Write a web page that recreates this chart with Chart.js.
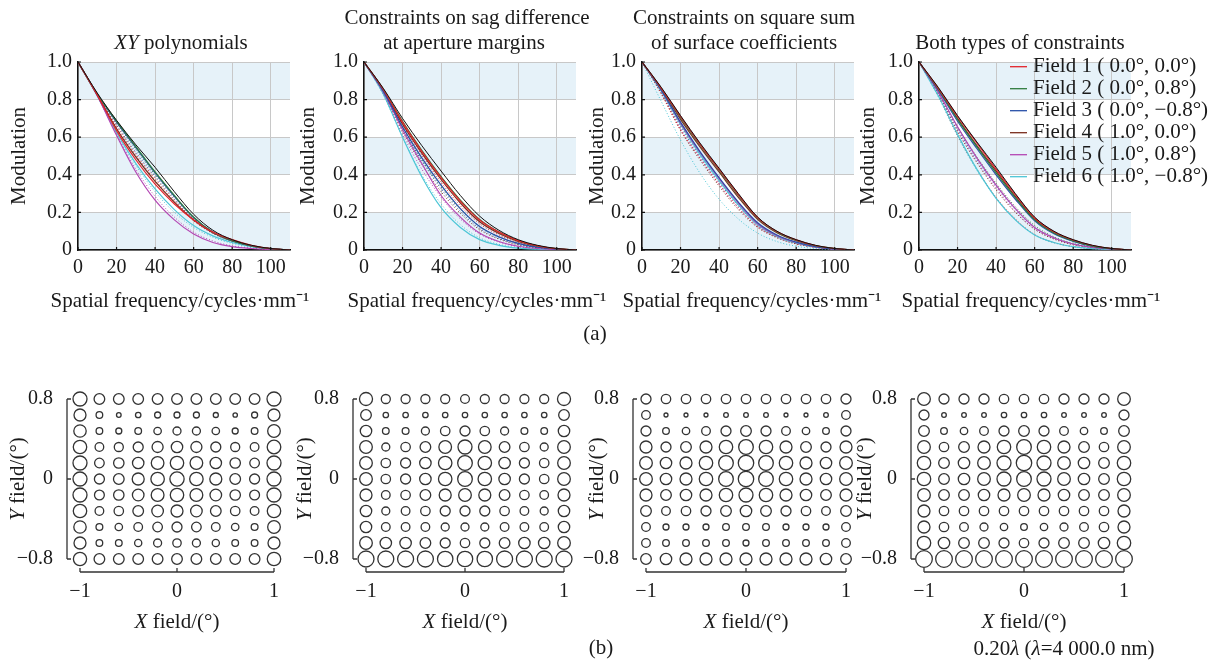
<!DOCTYPE html>
<html>
<head>
<meta charset="utf-8">
<script src="https://cdn.jsdelivr.net/npm/chart.js@4.4.1/dist/chart.umd.min.js"></script>
<style>
  body { margin: 0; background: #fff; width: 1220px; height: 663px; overflow: hidden; position: relative;
         font-family: 'Liberation Serif', 'Times New Roman', serif; color: #1a1a1a; }
  canvas { position: absolute; }
  .note { position: absolute; font-size: 21px; white-space: nowrap; transform: translate(-50%, -50%); }
</style>
</head>
<body>
<canvas id="mtf1" width="320" height="320" style="left:0px;top:0px"></canvas>
<canvas id="mtf2" width="330" height="320" style="left:290px;top:0px"></canvas>
<canvas id="mtf3" width="315" height="320" style="left:580px;top:0px"></canvas>
<canvas id="mtf4" width="365" height="320" style="left:855px;top:0px"></canvas>
<canvas id="grid1" width="300" height="303" style="left:0px;top:360px"></canvas>
<canvas id="grid2" width="300" height="303" style="left:290px;top:360px"></canvas>
<canvas id="grid3" width="300" height="303" style="left:580px;top:360px"></canvas>
<canvas id="grid4" width="365" height="303" style="left:855px;top:360px"></canvas>
<div class="note" style="left:595px;top:333px">(a)</div>
<div class="note" style="left:601px;top:647px">(b)</div>
<div class="note" style="left:1064px;top:648px">0.20<i>λ</i> (<i>λ</i>=4 000.0 nm)</div>
<script>
// spatial frequency samples, cycles/mm
const freq = [0, 10, 20, 30, 40, 50, 60, 70, 80, 90, 100, 110];
const fieldLabels = [
  "Field 1 ( 0.0°, 0.0°)",
  "Field 2 ( 0.0°, 0.8°)",
  "Field 3 ( 0.0°, \u22120.8°)",
  "Field 4 ( 1.0°, 0.0°)",
  "Field 5 ( 1.0°, 0.8°)",
  "Field 6 ( 1.0°, \u22120.8°)"
];
const fieldColors = ["#e3232b", "#2f7b3e", "#2850a8", "#7a2c1c", "#b447b4", "#4cc6d6"];

// (a) XY polynomials
const polyDiff = [1, 0.835, 0.69, 0.56, 0.44, 0.31, 0.19, 0.105, 0.055, 0.025, 0.008, 0];
const polyTan = [
  [1, 0.825, 0.635, 0.48, 0.35, 0.245, 0.16, 0.095, 0.055, 0.025, 0.008, 0],
  [1, 0.83, 0.685, 0.55, 0.415, 0.29, 0.175, 0.095, 0.05, 0.022, 0.007, 0],
  [1, 0.83, 0.68, 0.545, 0.41, 0.285, 0.172, 0.095, 0.05, 0.022, 0.007, 0],
  [1, 0.825, 0.645, 0.495, 0.365, 0.255, 0.16, 0.092, 0.05, 0.022, 0.007, 0],
  [1, 0.82, 0.61, 0.415, 0.265, 0.16, 0.085, 0.04, 0.018, 0.008, 0.003, 0],
  [1, 0.82, 0.625, 0.46, 0.325, 0.215, 0.13, 0.075, 0.04, 0.018, 0.006, 0]
];
const polySag = [
  [1, 0.83, 0.66, 0.51, 0.38, 0.265, 0.165, 0.095, 0.05, 0.022, 0.007, 0],
  [1, 0.83, 0.675, 0.535, 0.40, 0.28, 0.17, 0.095, 0.05, 0.022, 0.007, 0],
  [1, 0.825, 0.665, 0.52, 0.39, 0.27, 0.165, 0.09, 0.048, 0.021, 0.007, 0],
  [1, 0.825, 0.65, 0.50, 0.37, 0.255, 0.155, 0.088, 0.046, 0.02, 0.006, 0],
  [1, 0.82, 0.615, 0.43, 0.285, 0.175, 0.095, 0.048, 0.022, 0.01, 0.003, 0],
  [1, 0.82, 0.62, 0.45, 0.31, 0.20, 0.12, 0.068, 0.035, 0.015, 0.005, 0]
];

// (a) sag difference constraint
const edgeDiff = [1, 0.86, 0.70, 0.555, 0.42, 0.29, 0.18, 0.105, 0.055, 0.025, 0.008, 0];
const edgeTan = [
  [1, 0.855, 0.68, 0.525, 0.385, 0.26, 0.16, 0.095, 0.05, 0.022, 0.007, 0],
  [1, 0.855, 0.685, 0.53, 0.39, 0.265, 0.162, 0.095, 0.05, 0.022, 0.007, 0],
  [1, 0.845, 0.655, 0.49, 0.345, 0.22, 0.125, 0.07, 0.035, 0.015, 0.005, 0],
  [1, 0.85, 0.67, 0.515, 0.375, 0.25, 0.15, 0.088, 0.046, 0.02, 0.006, 0],
  [1, 0.84, 0.64, 0.46, 0.29, 0.175, 0.09, 0.045, 0.02, 0.008, 0.003, 0],
  [1, 0.83, 0.60, 0.39, 0.225, 0.12, 0.055, 0.025, 0.01, 0.004, 0.001, 0]
];
const edgeSag = [
  [1, 0.85, 0.665, 0.505, 0.36, 0.235, 0.14, 0.08, 0.04, 0.018, 0.006, 0],
  [1, 0.845, 0.65, 0.48, 0.335, 0.215, 0.125, 0.07, 0.035, 0.015, 0.005, 0],
  [1, 0.84, 0.645, 0.475, 0.325, 0.205, 0.115, 0.062, 0.03, 0.013, 0.004, 0],
  [1, 0.835, 0.63, 0.455, 0.31, 0.195, 0.108, 0.058, 0.028, 0.012, 0.004, 0],
  [1, 0.83, 0.615, 0.43, 0.28, 0.165, 0.085, 0.042, 0.018, 0.007, 0.002, 0],
  [1, 0.825, 0.60, 0.40, 0.245, 0.135, 0.065, 0.03, 0.012, 0.005, 0.001, 0]
];

// (a) square sum constraint
const sumDiff = [1, 0.865, 0.715, 0.57, 0.435, 0.30, 0.175, 0.10, 0.055, 0.025, 0.008, 0];
const sumTan = [
  [1, 0.86, 0.71, 0.565, 0.43, 0.295, 0.172, 0.098, 0.054, 0.024, 0.008, 0],
  [1, 0.86, 0.705, 0.56, 0.425, 0.29, 0.17, 0.096, 0.052, 0.023, 0.008, 0],
  [1, 0.85, 0.68, 0.525, 0.385, 0.255, 0.145, 0.08, 0.042, 0.018, 0.006, 0],
  [1, 0.855, 0.695, 0.55, 0.415, 0.28, 0.163, 0.092, 0.05, 0.022, 0.007, 0],
  [1, 0.85, 0.675, 0.52, 0.38, 0.25, 0.14, 0.076, 0.04, 0.017, 0.005, 0],
  [1, 0.845, 0.67, 0.51, 0.37, 0.24, 0.135, 0.072, 0.037, 0.016, 0.005, 0]
];
const sumSag = [
  [1, 0.835, 0.64, 0.49, 0.35, 0.225, 0.125, 0.068, 0.034, 0.015, 0.005, 0],
  [1, 0.845, 0.665, 0.51, 0.37, 0.24, 0.135, 0.074, 0.038, 0.016, 0.005, 0],
  [1, 0.84, 0.655, 0.50, 0.36, 0.235, 0.13, 0.07, 0.036, 0.015, 0.005, 0],
  [1, 0.83, 0.635, 0.48, 0.34, 0.215, 0.12, 0.065, 0.032, 0.014, 0.004, 0],
  [1, 0.835, 0.645, 0.49, 0.35, 0.225, 0.125, 0.068, 0.034, 0.015, 0.005, 0],
  [1, 0.79, 0.585, 0.41, 0.27, 0.165, 0.09, 0.045, 0.02, 0.008, 0.002, 0]
];

// (a) both constraints
const bothDiff = [1, 0.865, 0.715, 0.575, 0.44, 0.30, 0.175, 0.10, 0.055, 0.025, 0.008, 0];
const bothTan = [
  [1, 0.86, 0.71, 0.57, 0.43, 0.295, 0.17, 0.097, 0.053, 0.024, 0.008, 0],
  [1, 0.855, 0.695, 0.55, 0.41, 0.278, 0.16, 0.09, 0.048, 0.021, 0.007, 0],
  [1, 0.85, 0.685, 0.54, 0.40, 0.27, 0.155, 0.086, 0.046, 0.02, 0.006, 0],
  [1, 0.855, 0.70, 0.555, 0.42, 0.285, 0.165, 0.093, 0.05, 0.022, 0.007, 0],
  [1, 0.84, 0.655, 0.49, 0.345, 0.22, 0.12, 0.065, 0.032, 0.014, 0.004, 0],
  [1, 0.82, 0.615, 0.43, 0.275, 0.16, 0.08, 0.04, 0.018, 0.007, 0.002, 0]
];
const bothSag = [
  [1, 0.82, 0.61, 0.43, 0.28, 0.165, 0.082, 0.04, 0.018, 0.007, 0.002, 0],
  [1, 0.84, 0.655, 0.495, 0.355, 0.23, 0.13, 0.07, 0.035, 0.015, 0.005, 0],
  [1, 0.835, 0.645, 0.48, 0.34, 0.215, 0.12, 0.065, 0.032, 0.014, 0.004, 0],
  [1, 0.83, 0.63, 0.465, 0.32, 0.20, 0.11, 0.058, 0.028, 0.012, 0.004, 0],
  [1, 0.83, 0.635, 0.47, 0.33, 0.205, 0.112, 0.06, 0.03, 0.013, 0.004, 0],
  [1, 0.815, 0.605, 0.425, 0.275, 0.16, 0.08, 0.038, 0.017, 0.007, 0.002, 0]
];

// (b) full-field wavefront error (waves), rows from Y=0.8 down to Y=-0.8
const xField = [-1, -0.8, -0.6, -0.4, -0.2, 0, 0.2, 0.4, 0.6, 0.8, 1];
const yField = [0.8, 0.64, 0.48, 0.32, 0.16, 0, -0.16, -0.32, -0.48, -0.64, -0.8];
const polyRms = [
  [0.175, 0.133, 0.133, 0.133, 0.133, 0.133, 0.133, 0.133, 0.133, 0.133, 0.175],
  [0.15, 0.083, 0.058, 0.068, 0.075, 0.075, 0.075, 0.063, 0.055, 0.075, 0.15],
  [0.155, 0.083, 0.075, 0.083, 0.093, 0.1, 0.1, 0.093, 0.075, 0.083, 0.158],
  [0.168, 0.108, 0.113, 0.125, 0.138, 0.143, 0.138, 0.125, 0.113, 0.108, 0.17],
  [0.175, 0.12, 0.13, 0.143, 0.158, 0.168, 0.158, 0.143, 0.13, 0.12, 0.175],
  [0.175, 0.125, 0.133, 0.15, 0.168, 0.178, 0.168, 0.15, 0.133, 0.125, 0.175],
  [0.175, 0.123, 0.13, 0.145, 0.16, 0.168, 0.16, 0.145, 0.13, 0.123, 0.175],
  [0.168, 0.108, 0.118, 0.133, 0.145, 0.15, 0.145, 0.133, 0.118, 0.108, 0.168],
  [0.155, 0.085, 0.093, 0.108, 0.12, 0.125, 0.12, 0.108, 0.093, 0.085, 0.158],
  [0.15, 0.083, 0.083, 0.09, 0.1, 0.105, 0.1, 0.09, 0.083, 0.083, 0.15],
  [0.165, 0.133, 0.133, 0.133, 0.133, 0.133, 0.133, 0.133, 0.133, 0.133, 0.168]
];
const edgeRms = [
  [0.163, 0.113, 0.113, 0.113, 0.113, 0.11, 0.113, 0.113, 0.113, 0.113, 0.163],
  [0.133, 0.068, 0.068, 0.068, 0.068, 0.068, 0.068, 0.068, 0.068, 0.068, 0.133],
  [0.143, 0.083, 0.085, 0.1, 0.118, 0.125, 0.118, 0.1, 0.085, 0.083, 0.143],
  [0.158, 0.1, 0.118, 0.133, 0.158, 0.175, 0.158, 0.133, 0.118, 0.1, 0.158],
  [0.158, 0.118, 0.125, 0.143, 0.168, 0.183, 0.168, 0.143, 0.125, 0.118, 0.158],
  [0.158, 0.118, 0.125, 0.143, 0.168, 0.183, 0.168, 0.143, 0.125, 0.118, 0.158],
  [0.15, 0.108, 0.118, 0.133, 0.15, 0.158, 0.15, 0.133, 0.118, 0.108, 0.15],
  [0.143, 0.1, 0.108, 0.118, 0.125, 0.125, 0.125, 0.118, 0.108, 0.1, 0.143],
  [0.143, 0.108, 0.108, 0.108, 0.1, 0.1, 0.1, 0.108, 0.108, 0.108, 0.143],
  [0.158, 0.143, 0.143, 0.133, 0.125, 0.118, 0.125, 0.133, 0.143, 0.143, 0.158],
  [0.2, 0.2, 0.2, 0.2, 0.193, 0.193, 0.193, 0.2, 0.2, 0.2, 0.2]
];
const sumRms = [
  [0.125, 0.118, 0.118, 0.118, 0.118, 0.118, 0.118, 0.118, 0.118, 0.118, 0.125],
  [0.108, 0.05, 0.05, 0.05, 0.058, 0.058, 0.058, 0.05, 0.05, 0.058, 0.108],
  [0.125, 0.083, 0.093, 0.108, 0.125, 0.133, 0.125, 0.108, 0.093, 0.083, 0.125],
  [0.15, 0.125, 0.133, 0.15, 0.168, 0.183, 0.168, 0.15, 0.133, 0.125, 0.15],
  [0.158, 0.143, 0.15, 0.168, 0.183, 0.193, 0.183, 0.168, 0.15, 0.143, 0.158],
  [0.158, 0.143, 0.15, 0.168, 0.183, 0.193, 0.183, 0.168, 0.15, 0.143, 0.158],
  [0.15, 0.133, 0.143, 0.15, 0.168, 0.175, 0.168, 0.15, 0.143, 0.133, 0.15],
  [0.133, 0.108, 0.118, 0.125, 0.133, 0.143, 0.133, 0.125, 0.118, 0.108, 0.133],
  [0.108, 0.075, 0.075, 0.075, 0.083, 0.083, 0.083, 0.075, 0.075, 0.075, 0.108],
  [0.108, 0.083, 0.083, 0.083, 0.083, 0.075, 0.083, 0.083, 0.083, 0.083, 0.108],
  [0.133, 0.143, 0.15, 0.15, 0.15, 0.15, 0.15, 0.15, 0.15, 0.143, 0.133]
];
const bothRms = [
  [0.158, 0.125, 0.125, 0.125, 0.118, 0.118, 0.118, 0.125, 0.125, 0.125, 0.158],
  [0.125, 0.058, 0.058, 0.058, 0.068, 0.068, 0.068, 0.058, 0.058, 0.058, 0.125],
  [0.133, 0.083, 0.093, 0.108, 0.125, 0.133, 0.125, 0.108, 0.093, 0.083, 0.133],
  [0.158, 0.118, 0.133, 0.15, 0.168, 0.183, 0.168, 0.15, 0.133, 0.118, 0.158],
  [0.168, 0.133, 0.143, 0.158, 0.175, 0.193, 0.175, 0.158, 0.143, 0.133, 0.168],
  [0.168, 0.133, 0.143, 0.158, 0.175, 0.183, 0.175, 0.158, 0.143, 0.133, 0.168],
  [0.158, 0.133, 0.133, 0.143, 0.15, 0.158, 0.15, 0.143, 0.133, 0.133, 0.158],
  [0.15, 0.118, 0.118, 0.118, 0.118, 0.118, 0.118, 0.118, 0.118, 0.118, 0.15],
  [0.15, 0.118, 0.108, 0.1, 0.093, 0.083, 0.093, 0.1, 0.108, 0.118, 0.15],
  [0.168, 0.143, 0.133, 0.133, 0.125, 0.118, 0.125, 0.133, 0.133, 0.143, 0.168],
  [0.208, 0.208, 0.208, 0.208, 0.208, 0.208, 0.208, 0.208, 0.208, 0.208, 0.208]
];

const INK = "#1a1a1a";
const SERIF = "'Liberation Serif', 'Times New Roman', serif";
const RADIUS_PER_WAVE = 40; // bubble radius in px for 1 wave
Chart.defaults.font.family = SERIF;
Chart.defaults.font.size = 20;
Chart.defaults.color = INK;

// text with italic runs, kept outside chart options so the resolver leaves it alone
const richLabels = {
  mtf1: [
    { runs: [["XY", true], [" polynomials", false]], x: a => (a.left + a.right) / 2 - 3, y: () => 43 },
    { runs: [["Modulation", false]], x: a => a.left - 59, y: a => (a.top + a.bottom) / 2, rot: true },
    { runs: [["Spatial frequency/cycles·mm⁻¹", false]], x: a => (a.left + a.right) / 2 - 4, y: () => 301 }
  ],
  mtf2: [
    { runs: [["Constraints on sag difference", false]], x: a => (a.left + a.right) / 2 - 3, y: () => 18 },
    { runs: [["at aperture margins", false]], x: a => (a.left + a.right) / 2 - 6, y: () => 43 },
    { runs: [["Modulation", false]], x: a => a.left - 56, y: a => (a.top + a.bottom) / 2, rot: true },
    { runs: [["Spatial frequency/cycles·mm⁻¹", false]], x: a => (a.left + a.right) / 2 + 7, y: () => 301 }
  ],
  mtf3: [
    { runs: [["Constraints on square sum", false]], x: a => (a.left + a.right) / 2 - 4, y: () => 18 },
    { runs: [["of surface coefficients", false]], x: a => (a.left + a.right) / 2 - 4, y: () => 43 },
    { runs: [["Modulation", false]], x: a => a.left - 45, y: a => (a.top + a.bottom) / 2, rot: true },
    { runs: [["Spatial frequency/cycles·mm⁻¹", false]], x: a => (a.left + a.right) / 2 + 4, y: () => 301 }
  ],
  mtf4: [
    { runs: [["Both types of constraints", false]], x: a => (a.left + a.right) / 2 - 5, y: () => 43 },
    { runs: [["Modulation", false]], x: a => a.left - 51, y: a => (a.top + a.bottom) / 2, rot: true },
    { runs: [["Spatial frequency/cycles·mm⁻¹", false]], x: a => (a.left + a.right) / 2 + 6, y: () => 301 }
  ]
};
const gridTitleOffsets = { grid1: 62, grid2: 61, grid3: 49, grid4: 59 };
Object.keys(gridTitleOffsets).forEach(id => {
  richLabels[id] = [
    { runs: [["X", true], [" field/(°)", false]], x: a => (a.left + a.right) / 2, y: () => 262 },
    { runs: [["Y", true], [" field/(°)", false]], x: a => a.left - gridTitleOffsets[id], y: a => (a.top + a.bottom) / 2, rot: true }
  ];
});

const richText = {
  id: "richText",
  afterDraw(chart) {
    const items = richLabels[chart.canvas.id] || [];
    const ctx = chart.ctx, a = chart.chartArea;
    const fontOf = it => (it ? "italic " : "") + "21px " + SERIF;
    items.forEach(item => {
      ctx.save();
      ctx.translate(item.x(a), item.y(a));
      if (item.rot) ctx.rotate(-Math.PI / 2);
      ctx.textBaseline = "middle";
      ctx.fillStyle = INK;
      let total = 0;
      const sized = item.runs.map(([t, it]) => {
        ctx.font = fontOf(it);
        const w = ctx.measureText(t).width;
        total += w;
        return [t, it, w];
      });
      let cx = -total / 2;
      sized.forEach(([t, it, w]) => {
        ctx.font = fontOf(it);
        ctx.fillText(t, cx, 0);
        cx += w;
      });
      ctx.restore();
    });
  }
};

// alternating light blue bands behind the MTF grid, small inward ticks on top
const bands = {
  id: "bands",
  beforeDraw(chart) {
    const { ctx, chartArea: a, scales: { y } } = chart;
    ctx.save();
    ctx.fillStyle = "#e6f2f9";
    [[0, 0.2], [0.4, 0.6], [0.8, 1]].forEach(([lo, hi]) => {
      const top = y.getPixelForValue(hi), bot = y.getPixelForValue(lo);
      ctx.fillRect(a.left, top, a.right - a.left, bot - top);
    });
    ctx.restore();
  },
  afterDraw(chart) {
    const { ctx, chartArea: a, scales: { x, y } } = chart;
    ctx.save();
    ctx.strokeStyle = "#111";
    ctx.lineWidth = 1.2;
    ctx.beginPath();
    y.ticks.forEach(t => {
      const py = y.getPixelForValue(t.value);
      ctx.moveTo(a.left, py);
      ctx.lineTo(a.left + 3, py);
    });
    x.ticks.forEach(t => {
      const px = x.getPixelForValue(t.value);
      ctx.moveTo(px, a.bottom);
      ctx.lineTo(px, a.bottom - 3);
    });
    ctx.stroke();
    ctx.restore();
  }
};

// legend drawn over the plot of the last MTF panel
const fieldLegend = {
  id: "fieldLegend",
  afterDraw(chart) {
    if (chart.canvas.id !== "mtf4") return;
    const ctx = chart.ctx;
    const x0 = chart.chartArea.left + 91, y0 = 66.7, step = 22;
    ctx.save();
    ctx.font = "21px " + SERIF;
    ctx.textBaseline = "middle";
    fieldLabels.forEach((label, i) => {
      const y = y0 + i * step;
      ctx.strokeStyle = fieldColors[i];
      ctx.lineWidth = 1.3;
      ctx.beginPath();
      ctx.moveTo(x0, y);
      ctx.lineTo(x0 + 17, y);
      ctx.stroke();
      ctx.fillStyle = INK;
      ctx.fillText(label, x0 + 23, y);
    });
    ctx.restore();
  }
};

// detached range-frame axes for the spot grids
const rangeFrame = {
  id: "rangeFrame",
  afterDraw(chart) {
    const { ctx, chartArea: a, scales: { x, y } } = chart;
    const off = 13, tick = 4;
    const lx = a.left - off, by = a.bottom + off;
    ctx.save();
    ctx.strokeStyle = "#333";
    ctx.lineWidth = 1.3;
    ctx.beginPath();
    ctx.moveTo(lx, y.getPixelForValue(y.max));
    ctx.lineTo(lx, y.getPixelForValue(y.min));
    y.ticks.forEach(t => {
      const py = y.getPixelForValue(t.value);
      ctx.moveTo(lx, py);
      ctx.lineTo(lx + tick, py);
    });
    ctx.moveTo(x.getPixelForValue(x.min), by);
    ctx.lineTo(x.getPixelForValue(x.max), by);
    x.ticks.forEach(t => {
      const px = x.getPixelForValue(t.value);
      ctx.moveTo(px, by);
      ctx.lineTo(px, by - tick);
    });
    ctx.stroke();
    ctx.restore();
  }
};

const minus = v => (v < 0 ? "\u2212" + Math.abs(v) : String(v));

function curve(vals) {
  return vals.map((v, k) => ({ x: freq[k], y: v }));
}

function mtfChart(id, diff, tan, sag, yWidth, rightPad) {
  const sets = [{ label: "Diffraction limit", data: curve(diff), borderColor: "#111", borderWidth: 1 }];
  tan.forEach((vals, i) => sets.push({ label: fieldLabels[i], data: curve(vals), borderColor: fieldColors[i], borderWidth: 1.2 }));
  sag.forEach((vals, i) => sets.push({ label: fieldLabels[i] + " S", data: curve(vals), borderColor: fieldColors[i], borderWidth: 1, borderDash: [1, 2] }));
  return new Chart(document.getElementById(id), {
    type: "line",
    data: { datasets: sets },
    options: {
      responsive: false,
      animation: false,
      devicePixelRatio: 1,
      events: [],
      layout: { padding: { left: 0, right: rightPad, top: 62, bottom: 0 } },
      elements: { point: { radius: 0 }, line: { cubicInterpolationMode: "monotone" } },
      plugins: { legend: { display: false }, tooltip: { enabled: false } },
      scales: {
        x: {
          type: "linear", min: 0, max: 110,
          ticks: { stepSize: 20, includeBounds: false, padding: 6, maxRotation: 0 },
          grid: { color: "#c8c8c8", drawTicks: false },
          border: { color: "#111", width: 1.5 },
          afterFit: s => { s.height = 70; }
        },
        y: {
          min: 0, max: 1,
          ticks: { stepSize: 0.2, padding: 6, callback: v => (v === 0 ? "0" : v.toFixed(1)) },
          grid: { color: "#c8c8c8", drawTicks: false },
          border: { color: "#111", width: 1.5 },
          afterFit: s => { s.width = yWidth; }
        }
      }
    },
    plugins: [bands, richText, fieldLegend]
  });
}

function gridChart(id, rms, yWidth, rightPad) {
  const pts = [];
  yField.forEach((y, r) => xField.forEach((x, c) => pts.push({ x: x, y: y, r: rms[r][c] * RADIUS_PER_WAVE })));
  return new Chart(document.getElementById(id), {
    type: "bubble",
    data: { datasets: [{ label: "RMS wavefront error", data: pts, borderColor: "#333", borderWidth: 1.3, backgroundColor: "rgba(0,0,0,0)", clip: false }] },
    options: {
      responsive: false,
      animation: false,
      devicePixelRatio: 1,
      events: [],
      layout: { padding: { left: 0, right: rightPad, top: 21, bottom: 0 } },
      plugins: { legend: { display: false }, tooltip: { enabled: false } },
      scales: {
        x: {
          type: "linear", min: -1, max: 1, offset: false,
          ticks: { stepSize: 1, padding: 21, maxRotation: 0, callback: minus },
          grid: { display: false, drawTicks: false },
          border: { display: false },
          afterFit: s => { s.height = 104; }
        },
        y: {
          type: "linear", min: -0.8, max: 0.8, offset: false,
          ticks: { stepSize: 0.8, padding: 27, callback: minus },
          grid: { display: false, drawTicks: false },
          border: { display: false },
          afterFit: s => { s.width = yWidth; }
        }
      }
    },
    plugins: [rangeFrame, richText]
  });
}

mtfChart("mtf1", polyDiff, polyTan, polySag, 78, 30);
mtfChart("mtf2", edgeDiff, edgeTan, edgeSag, 74, 44);
mtfChart("mtf3", sumDiff, sumTan, sumSag, 62, 41);
mtfChart("mtf4", bothDiff, bothTan, bothSag, 64, 89);

gridChart("grid1", polyRms, 80, 20);
gridChart("grid2", edgeRms, 76, 24);
gridChart("grid3", sumRms, 66, 34);
gridChart("grid4", bothRms, 69, 96);
</script>
</body>
</html>
